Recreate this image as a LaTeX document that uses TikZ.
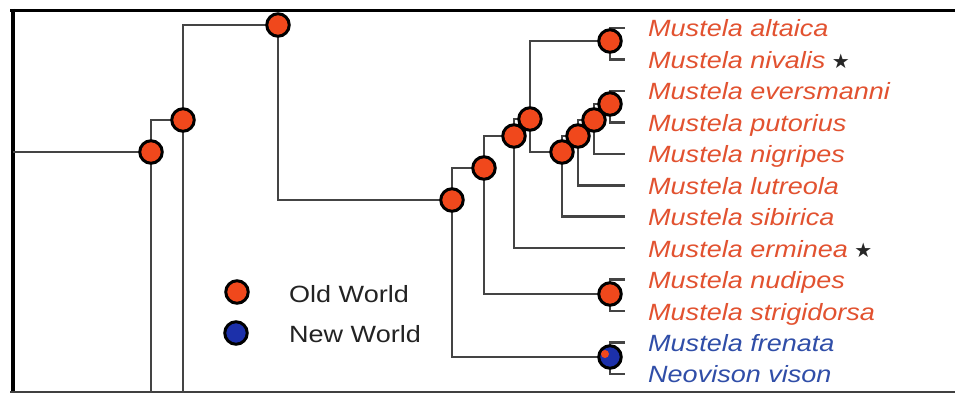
\documentclass[tikz,border=0pt]{standalone}
\usepackage{fontspec}
\usetikzlibrary{backgrounds}
\newfontfamily\labfont[FakeStretch=1.15]{Liberation Sans}
\newfontfamily\symfont{DejaVu Sans}
\definecolor{oldc}{RGB}{240,72,28}
\definecolor{newc}{RGB}{28,48,170}
\definecolor{oldtxt}{RGB}{226,82,48}
\definecolor{newtxt}{RGB}{48,78,168}
\definecolor{branch}{RGB}{68,68,68}
\definecolor{legtxt}{RGB}{35,35,35}
\begin{document}
\begin{tikzpicture}[x=1pt,y=-1pt,
  anc/.style={circle,draw=black,line width=3pt,minimum size=22.5pt,inner sep=0pt,fill=oldc},
  branchline/.style={draw=branch,line width=2.6pt},
  species/.style={anchor=base west,inner sep=0pt,font=\labfont\itshape\fontsize{23.5}{28}\selectfont,text=oldtxt},
  newsp/.style={species,text=newtxt},
  legend/.style={anchor=base west,inner sep=0pt,font=\labfont\fontsize{23.5}{28}\selectfont,text=legtxt},
  star/.style={text=black!85,font=\symfont\fontsize{20}{21}\selectfont,inner sep=0pt,anchor=west}
]
\useasboundingbox (0,0) rectangle (955,393);

% tips
\foreach \i in {1,...,12} \coordinate (t\i) at (625,{28+31.45*(\i-1)});
\coordinate (root) at (13,152);
\coordinate (Abot) at (151,395);
\coordinate (Bbot) at (183,395);

% internal nodes
\node[anc] (A) at (151,152) {};
\node[anc] (B) at (183,120) {};
\node[anc] (C) at (278,25) {};
\node[anc] (D) at (452,200) {};
\node[anc] (E) at (484,168) {};
\node[anc] (F) at (514,136) {};
\node[anc] (G) at (530,119) {};
\node[anc] (I) at (562,152) {};
\node[anc] (J) at (578,136) {};
\node[anc] (K) at (594,120) {};
\node[anc] (L) at (610,104) {};
\node[anc] (H) at (610,41) {};
\node[anc] (M) at (610,294) {};
\node[anc,fill=newc] (N) at (610,357) {};
\node[circle,fill=oldc,minimum size=8pt,inner sep=0pt] (Nred) at (605,354) {};

% frame and branches
\begin{scope}[on background layer]
  \fill[white] (0,0) rectangle (955,393);
  \draw[line width=3.5pt,black] (10,10.5) -- (955,10.5);
  \draw[line width=3.5pt,black] (13,9) -- (13,393);
  \draw[line width=2pt,black!75] (10,392) -- (955,392);
  \draw[branchline] (root) -- (A.center);
  \draw[branchline] (A.center) -- (Abot);
  \draw[branchline] (A.center) |- (B.center);
  \draw[branchline] (B.center) -- (Bbot);
  \draw[branchline] (B.center) |- (C.center);
  \draw[branchline] (C.center) |- (D.center);
  \draw[branchline] (D.center) |- (E.center);
  \draw[branchline] (D.center) |- (N.center);
  \draw[branchline] (E.center) |- (F.center);
  \draw[branchline] (E.center) |- (M.center);
  \draw[branchline] (F.center) |- (G.center);
  \draw[branchline] (F.center) |- (t8);
  \draw[branchline] (G.center) |- (H.center);
  \draw[branchline] (G.center) |- (I.center);
  \draw[branchline] (I.center) |- (J.center);
  \draw[branchline] (I.center) |- (t7);
  \draw[branchline] (J.center) |- (K.center);
  \draw[branchline] (J.center) |- (t6);
  \draw[branchline] (K.center) |- (L.center);
  \draw[branchline] (K.center) |- (t5);
  \draw[branchline] (L.center) |- (t3);
  \draw[branchline] (L.center) |- (t4);
  \draw[branchline] (H.center) |- (t1);
  \draw[branchline] (H.center) |- (t2);
  \draw[branchline] (M.center) |- (t9);
  \draw[branchline] (M.center) |- (t10);
  \draw[branchline] (N.center) |- (t11);
  \draw[branchline] (N.center) |- (t12);
\end{scope}

% species labels
\node[species] (s1) at (648,37) {Mustela altaica};
\node[species] (s2) at (648,68.45) {Mustela nivalis};
\node[star] (st2) at ([xshift=6pt,yshift=7pt]s2.base east) {★};
\node[species] (s3) at (648,99.9) {Mustela eversmanni};
\node[species] (s4) at (648,131.35) {Mustela putorius};
\node[species] (s5) at (648,162.8) {Mustela nigripes};
\node[species] (s6) at (648,194.25) {Mustela lutreola};
\node[species] (s7) at (648,225.7) {Mustela sibirica};
\node[species] (s8) at (648,257.15) {Mustela erminea};
\node[star] (st8) at ([xshift=6pt,yshift=7pt]s8.base east) {★};
\node[species] (s9) at (648,288.6) {Mustela nudipes};
\node[species] (s10) at (648,320.05) {Mustela strigidorsa};
\node[newsp] (s11) at (648,351.5) {Mustela frenata};
\node[newsp] (s12) at (648,382.95) {Neovison vison};

% legend
\node[anc] (lo) at (237,292) {};
\node[anc,fill=newc] (ln) at (236,333) {};
\node[legend] (lot) at (289,302) {Old World};
\node[legend] (lnt) at (289,342) {New World};
\end{tikzpicture}
\end{document}
